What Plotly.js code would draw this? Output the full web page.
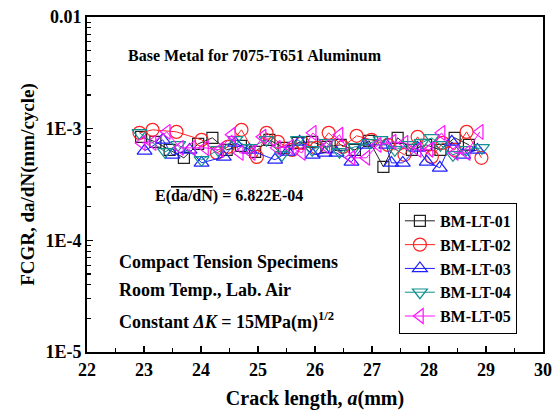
<!DOCTYPE html>
<html>
<head>
<meta charset="utf-8">
<script src="https://cdn.plot.ly/plotly-3.0.1.min.js"></script>
<style>html,body{margin:0;padding:0;background:#fff;}#chart{width:553px;height:414px;}</style>
</head>
<body>
<div id="chart"></div>
<script>
// Crack length (mm) and FCGR da/dN (mm/cycle) for each specimen
const seriesNames = ["BM-LT-01", "BM-LT-02", "BM-LT-03", "BM-LT-04", "BM-LT-05"];

const x01 = [22.95, 23.2, 23.45, 23.7, 23.95, 24.2, 24.45, 24.7, 24.95, 25.2, 25.45, 25.7, 25.95, 26.2, 26.45, 26.7, 26.95, 27.2, 27.45, 27.7, 27.95, 28.2, 28.45, 28.7];
const y01 = [8.45e-4, 7.62e-4, 6.46e-4, 5.48e-4, 7.31e-4, 8.28e-4, 6.46e-4, 7.02e-4, 6.20e-4, 7.94e-4, 6.73e-4, 7.46e-4, 7.62e-4, 6.87e-4, 7.16e-4, 6.46e-4, 7.78e-4, 4.55e-4, 8.28e-4, 6.46e-4, 7.16e-4, 6.46e-4, 8.28e-4, 7.16e-4];

const x02 = [22.92, 23.15, 23.57, 24.01, 24.28, 24.47, 24.71, 24.98, 25.15, 25.35, 25.6, 25.78, 26.03, 26.24, 26.49, 26.73, 26.99, 27.28, 27.57, 27.80, 28.05, 28.24, 28.45, 28.66, 28.92];
const y02 = [9.17e-4, 9.76e-4, 9.36e-4, 7.94e-4, 6.07e-4, 6.87e-4, 9.76e-4, 5.59e-4, 9.17e-4, 7.62e-4, 6.46e-4, 7.46e-4, 6.73e-4, 9.17e-4, 6.87e-4, 8.63e-4, 7.94e-4, 7.16e-4, 5.83e-4, 8.45e-4, 5.59e-4, 7.46e-4, 6.46e-4, 9.36e-4, 5.48e-4];

const x03 = [23.01, 23.33, 23.5, 23.8, 24.01, 24.4, 24.6, 24.85, 25.3, 25.52, 25.73, 25.96, 26.17, 26.38, 26.64, 26.87, 27.25, 27.34, 27.54, 27.8, 27.96, 28.19, 28.4, 28.6, 28.85];
const y03 = [6.33e-4, 7.94e-4, 5.83e-4, 6.46e-4, 4.94e-4, 5.59e-4, 7.46e-4, 6.46e-4, 5.26e-4, 6.20e-4, 7.62e-4, 5.83e-4, 6.07e-4, 6.07e-4, 5.05e-4, 7.16e-4, 7.16e-4, 4.94e-4, 4.94e-4, 6.73e-4, 5.05e-4, 4.46e-4, 7.62e-4, 5.83e-4, 6.46e-4];

const x04 = [22.92, 23.37, 23.6, 24.01, 24.3, 24.6, 24.85, 25.15, 25.42, 25.7, 25.95, 26.2, 26.43, 26.7, 26.96, 27.15, 27.4, 27.65, 27.87, 28.05, 28.2, 28.42, 28.65, 28.93];
const y04 = [9.17e-4, 6.20e-4, 7.16e-4, 5.26e-4, 6.46e-4, 7.94e-4, 6.73e-4, 7.94e-4, 5.83e-4, 7.94e-4, 6.46e-4, 7.46e-4, 6.20e-4, 6.87e-4, 7.46e-4, 7.94e-4, 6.46e-4, 7.16e-4, 7.46e-4, 8.28e-4, 7.16e-4, 5.83e-4, 6.46e-4, 6.73e-4];

const x05 = [22.96, 23.15, 23.4, 23.63, 23.84, 24.07, 24.33, 24.54, 24.68, 24.89, 25.08, 25.33, 25.56, 25.77, 25.96, 26.2, 26.43, 26.64, 26.9, 27.1, 27.36, 27.57, 27.8, 28.01, 28.22, 28.45, 28.66, 28.89];
const y05 = [7.46e-4, 7.46e-4, 9.36e-4, 6.73e-4, 6.73e-4, 6.73e-4, 6.46e-4, 8.81e-4, 6.07e-4, 6.07e-4, 8.45e-4, 6.73e-4, 6.87e-4, 6.07e-4, 9.17e-4, 6.87e-4, 8.81e-4, 5.48e-4, 5.48e-4, 7.16e-4, 7.62e-4, 7.46e-4, 6.46e-4, 6.46e-4, 9.17e-4, 6.07e-4, 6.07e-4, 9.36e-4];

const xTickVals = [22, 23, 24, 25, 26, 27, 28, 29, 30];
const xTickText = ["22", "23", "24", "25", "26", "27", "28", "29", "30"];
const yTickVals = [1e-5, 1e-4, 1e-3, 1e-2];
const yTickText = ["1E-5", "1E-4", "1E-3", "0.01"];
const meanText = "6.822E-04";

const xs = [x01, x02, x03, x04, x05];
const ys = [y01, y02, y03, y04, y05];
const colors = ["#222222", "#ff2020", "#2020ff", "#109090", "#ff10ff"];
const symbols = ["square-open", "circle-open", "triangle-up-open", "triangle-down-open", "triangle-left-open"];
const sizes = [11, 13, 13, 13, 13];

const font = "Liberation Serif";
const bold = s => "<b>" + s + "</b>";

const traces = seriesNames.map((n, i) => ({
  type: "scatter", mode: "lines+markers", name: n,
  x: xs[i], y: ys[i],
  line: {color: colors[i], width: 1},
  marker: {symbol: symbols[i], size: sizes[i], color: colors[i], line: {width: 1.2, color: colors[i]}}
}));

const minorVals = [];
for (let d = -5; d < -2; d++) for (let k = 2; k <= 9; k++) minorVals.push(k * Math.pow(10, d));

const layout = {
  width: 553, height: 414,
  margin: {l: 87, r: 10, t: 17, b: 62},
  paper_bgcolor: "#fff", plot_bgcolor: "#fff",
  font: {family: font, color: "#000"},
  showlegend: true,
  xaxis: {
    range: [22, 30],
    tickvals: xTickVals, ticktext: xTickText.map(bold),
    ticks: "inside", ticklen: 6, tickwidth: 1.2, tickcolor: "#000",
    minor: {dtick: 0.5, ticks: "inside", ticklen: 4, tickcolor: "#000"},
    showline: true, linecolor: "#000", linewidth: 2, mirror: true,
    showgrid: false, zeroline: false,
    tickfont: {family: font, size: 18, weight: "bold"},
    title: {text: "<b>Crack length, <i>a</i>(mm)</b>", font: {family: font, size: 20}, standoff: 12}
  },
  yaxis: {
    type: "log", range: [-5, -2],
    tickvals: yTickVals, ticktext: yTickText.map(bold),
    ticks: "inside", ticklen: 6, tickwidth: 1.2, tickcolor: "#000",
    minor: {tickvals: minorVals, ticks: "inside", ticklen: 4, tickcolor: "#000", showgrid: false},
    showline: true, linecolor: "#000", linewidth: 2, mirror: true,
    showgrid: false, zeroline: false,
    tickfont: {family: font, size: 18, weight: "bold"},
    title: {text: "<b>FCGR, da/dN(mm/cycle)</b>", font: {family: font, size: 19}, standoff: 6}
  },
  legend: {
    x: 0.684, y: 0.445, xanchor: "left", yanchor: "top",
    bgcolor: "#fff", bordercolor: "#000", borderwidth: 1,
    font: {family: font, size: 16, weight: "bold"},
    tracegroupgap: 0
  },
  annotations: [
    {xref: "paper", yref: "paper", x: 0.368, y: 0.884, showarrow: false, xanchor: "center", yanchor: "middle",
     text: "<b>Base Metal for 7075-T651 Aluminum</b>", font: {family: font, size: 16}},
    {xref: "paper", yref: "paper", x: 0.311, y: 0.466, showarrow: false, xanchor: "center", yanchor: "middle",
     text: "<b>E(<span style=\"text-decoration:overline\">da/dN</span>) = " + meanText + "</b>", font: {family: font, size: 16}},
    {xref: "paper", yref: "paper", x: 0.066, y: 0.268, showarrow: false, xanchor: "left", yanchor: "middle",
     text: "<b>Compact Tension Specimens</b>", font: {family: font, size: 18}},
    {xref: "paper", yref: "paper", x: 0.066, y: 0.185, showarrow: false, xanchor: "left", yanchor: "middle",
     text: "<b>Room Temp., Lab. Air</b>", font: {family: font, size: 18}},
    {xref: "paper", yref: "paper", x: 0.066, y: 0.092, showarrow: false, xanchor: "left", yanchor: "middle",
     text: "<b>Constant <i>ΔK</i> = 15MPa(m)<sup>1/2</sup></b>", font: {family: font, size: 18}}
  ]
};

Plotly.newPlot("chart", traces, layout, {displayModeBar: false, staticPlot: true});
</script>
</body>
</html>
